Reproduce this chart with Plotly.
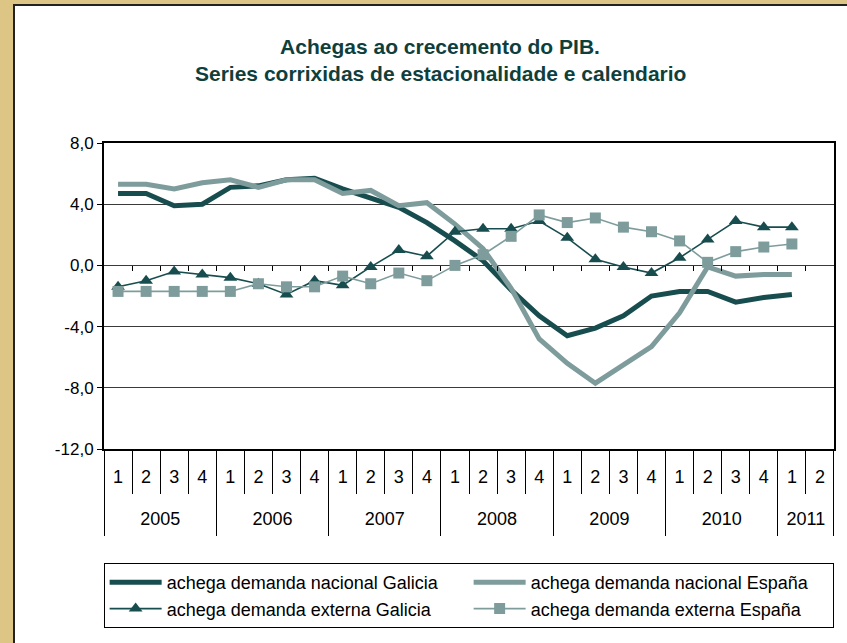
import plotly.graph_objects as go

years = ["2005"] * 4 + ["2006"] * 4 + ["2007"] * 4 + ["2008"] * 4 + ["2009"] * 4 + ["2010"] * 4 + ["2011"] * 2
quarters = ["1", "2", "3", "4"] * 6 + ["1", "2"]

gal_nac = [4.7, 4.7, 3.9, 4.0, 5.1, 5.2, 5.6, 5.7, 5.0, 4.4, 3.8, 2.8, 1.6, 0.3, -1.6, -3.3,
           -4.6, -4.1, -3.3, -2.0, -1.7, -1.7, -2.4, -2.1, -1.9, None]
esp_nac = [5.3, 5.3, 5.0, 5.4, 5.6, 5.1, 5.6, 5.6, 4.7, 4.9, 3.9, 4.1, 2.7, 1.1, -1.5, -4.8,
           -6.4, -7.7, -6.5, -5.3, -3.1, -0.1, -0.7, -0.6, -0.6, None]
gal_ext = [-1.4, -1.0, -0.4, -0.6, -0.8, -1.2, -1.9, -1.0, -1.3, -0.1, 1.0, 0.6, 2.2, 2.4, 2.4, 2.9,
           1.8, 0.4, -0.1, -0.5, 0.5, 1.7, 2.9, 2.5, 2.5, None]
esp_ext = [-1.7, -1.7, -1.7, -1.7, -1.7, -1.2, -1.4, -1.4, -0.7, -1.2, -0.5, -1.0, 0.0, 0.7, 1.9, 3.3,
           2.8, 3.1, 2.5, 2.2, 1.6, 0.2, 0.9, 1.2, 1.4, None]

names = ["achega demanda nacional Galicia", "achega demanda nacional España",
         "achega demanda externa Galicia", "achega demanda externa España"]
y_ticks = [8, 4, 0, -4, -8, -12]
y_ticktext = ["8,0", "4,0", "0,0", "-4,0", "-8,0", "-12,0"]

DARK = "#184d4f"
LIGHT = "#7f9c9c"
TITLE = "#0f3f3c"
FONT = "Liberation Sans, Arial, sans-serif"

W, H = 847, 643
L, R, T, B = 104, 13, 143, 194
pw, ph = W - L - R, H - T - B

n = len(quarters)
xi = list(range(n))
eps = 0.002
q_bounds = [i - 0.5 for i in range(n + 1)]
q_bounds[0] += eps
q_bounds[-1] -= eps
year_labels = []
year_centers = []
y_bounds = [-0.5 + eps]
for i, yv in enumerate(years):
    if not year_labels or year_labels[-1] != yv:
        year_labels.append(yv)
        idx = [j for j, v in enumerate(years) if v == yv]
        year_centers.append((idx[0] + idx[-1]) / 2)
        if i > 0:
            y_bounds.append(i - 0.5)
y_bounds.append(n - 0.5 - eps)

fig = go.Figure()
fig.add_trace(go.Scatter(x=xi, y=gal_nac, name=names[0], mode="lines",
                         line=dict(color=DARK, width=5)))
fig.add_trace(go.Scatter(x=xi, y=esp_nac, name=names[1], mode="lines",
                         line=dict(color=LIGHT, width=5)))
fig.add_trace(go.Scatter(x=xi, y=gal_ext, name=names[2], mode="lines+markers",
                         line=dict(color=DARK, width=1.6),
                         marker=dict(symbol="triangle-up", size=12, color=DARK)))
fig.add_trace(go.Scatter(x=xi, y=esp_ext, name=names[3], mode="lines+markers",
                         line=dict(color=LIGHT, width=1.6),
                         marker=dict(symbol="square", size=11, color=LIGHT)))
# helper traces so the overlay axes (ticks on the 0 line, year row) are drawn
for ax in ("x2", "x3"):
    fig.add_trace(go.Scatter(x=[0], y=[None], xaxis=ax, showlegend=False,
                             hoverinfo="skip", mode="lines"))

def px_to_paper_x(px):
    return (px - L) / pw

def px_to_paper_y(py):
    return (H - B - py) / ph

fig.add_shape(type="rect", xref="paper", yref="paper",
              x0=px_to_paper_x(14), x1=px_to_paper_x(870),
              y0=px_to_paper_y(670), y1=px_to_paper_y(5),
              fillcolor="white", line=dict(color="#222222", width=2), layer="below")

ymin, ymax = -12, 8
xr = [-0.5, n - 0.5]
fig.update_layout(
    width=W, height=H,
    margin=dict(l=L, r=R, t=T, b=B, autoexpand=False),
    paper_bgcolor="#dcc585",
    plot_bgcolor="rgba(0,0,0,0)",
    font=dict(family=FONT, size=18, color="black"),
    title=dict(text="<b>Achegas ao crecemento do PIB.</b>", x=px_to_paper_x(440), xref="paper",
               xanchor="center", y=1 - 47 / H, yref="container", yanchor="middle",
               font=dict(family=FONT, size=21, color=TITLE)),
    annotations=[dict(text="<b>Series corrixidas de estacionalidade e calendario</b>",
                      x=px_to_paper_x(440), y=px_to_paper_y(74), xref="paper", yref="paper",
                      xanchor="center", yanchor="middle", showarrow=False,
                      font=dict(family=FONT, size=21, color=TITLE))],
    xaxis=dict(range=xr, tickmode="array", tickvals=xi, ticktext=quarters, ticks="",
               showline=True, linecolor="black", linewidth=2, mirror=True,
               ticklabelstandoff=10, showgrid=False, zeroline=False, automargin=False,
               tickfont=dict(size=18),
               minor=dict(tickmode="array", tickvals=q_bounds, ticks="outside", ticklen=43,
                          tickcolor="black", tickwidth=1, showgrid=False)),
    xaxis2=dict(overlaying="x", anchor="free", position=(0 - ymin) / (ymax - ymin),
                range=xr, tickmode="array", tickvals=q_bounds[1:-1],
                ticks="outside", ticklen=5, tickcolor="black", showticklabels=False,
                showline=False, showgrid=False, zeroline=False, side="bottom"),
    xaxis3=dict(overlaying="x", anchor="free", position=0, side="bottom",
                range=xr, tickmode="array", tickvals=year_centers, ticktext=year_labels,
                ticks="", ticklabelstandoff=57, showline=False, showgrid=False,
                zeroline=False, automargin=False, tickfont=dict(size=18),
                minor=dict(tickmode="array", tickvals=y_bounds, ticks="outside", ticklen=86,
                           tickcolor="black", tickwidth=1, showgrid=False)),
    yaxis=dict(range=[ymin, ymax], tickvals=y_ticks, ticktext=y_ticktext,
               showline=True, linecolor="black", linewidth=2, mirror=True,
               ticks="outside", ticklen=5, tickcolor="black", automargin=False,
               tickfont=dict(size=17),
               showgrid=True, gridcolor="#3a3a3a", gridwidth=1, zeroline=False),
    showlegend=True,
    legend=dict(orientation="h", x=-0.0005, y=px_to_paper_y(563),
                xanchor="left", yanchor="top", entrywidth=297, entrywidthmode="pixels",
                itemwidth=52,
                bgcolor="white", bordercolor="black", borderwidth=1,
                font=dict(size=18, color="black"), tracegroupgap=0),
)

fig.write_html("out.html", post_script="document.body.style.margin='0px';",
               config={"displayModeBar": False})
